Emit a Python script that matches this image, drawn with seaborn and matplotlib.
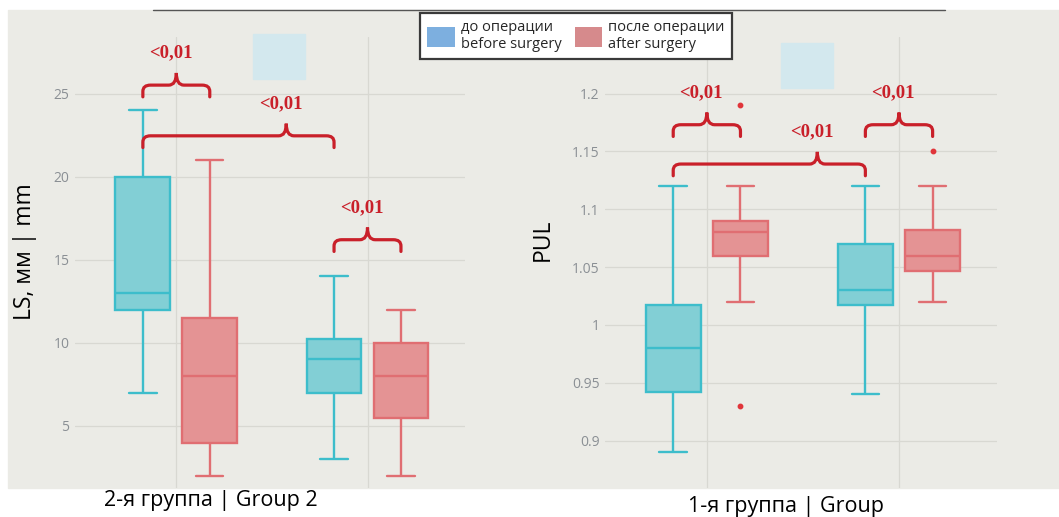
#!/usr/bin/env python3
# LS / PUL before vs after surgery, two groups side by side

import numpy as np
import pandas as pd
import matplotlib
matplotlib.use("Agg")
import matplotlib.pyplot as plt
import seaborn as sns
from matplotlib.path import Path
from matplotlib.patches import PathPatch, Patch, Rectangle
from matplotlib.lines import Line2D
from matplotlib.transforms import blended_transform_factory

# ---------------- data ----------------
categories = ["a", "b"]
hue_levels = ["до операции\nbefore surgery", "после операции\nafter surgery"]

# left panel: LS, mm  (five-number summaries per box)
ls_before_min = [7, 3]
ls_before_q1 = [12, 7]
ls_before_med = [13, 9]
ls_before_q3 = [20, 10.25]
ls_before_max = [24, 14]
ls_before_out = [[], []]

ls_after_min = [2, 2]
ls_after_q1 = [4, 5.5]
ls_after_med = [8, 8]
ls_after_q3 = [11.5, 10]
ls_after_max = [21, 12]
ls_after_out = [[], []]

# right panel: PUL
pul_before_min = [0.89, 0.94]
pul_before_q1 = [0.942, 1.017]
pul_before_med = [0.98, 1.03]
pul_before_q3 = [1.017, 1.07]
pul_before_max = [1.12, 1.12]
pul_before_out = [[], []]

pul_after_min = [1.02, 1.02]
pul_after_q1 = [1.06, 1.047]
pul_after_med = [1.08, 1.06]
pul_after_q3 = [1.09, 1.082]
pul_after_max = [1.12, 1.12]
pul_after_out = [[0.93, 1.19], [1.15]]

ls_ticks = [5, 10, 15, 20, 25]
ls_ticklabels = ["5", "10", "15", "20", "25"]
pul_ticks = [0.9, 0.95, 1.0, 1.05, 1.1, 1.15, 1.2]
pul_ticklabels = ["0.9", "0.95", "1", "1.05", "1.1", "1.15", "1.2"]

# significance brackets: (cat_a, hue_a, cat_b, hue_b, bracket end value, tip position 0..1)
ls_brackets = [
    (0, 0, 0, 1, 24.8, 0.5),
    (0, 0, 1, 0, 21.75, 0.75),
    (1, 0, 1, 1, 15.5, 0.5),
]
pul_brackets = [
    (0, 0, 0, 1, 1.163, 0.5),
    (0, 0, 1, 0, 1.129, 0.75),
    (1, 0, 1, 1, 1.163, 0.5),
]
p_label = "<0,01"

# ---------------- styling ----------------
BG = "#ebebe6"
FILL = {hue_levels[0]: "#82cfd5", hue_levels[1]: "#e49394"}
EDGE = {hue_levels[0]: "#3dbdcb", hue_levels[1]: "#e06e72"}
LEGEND_COL = ["#7dafdf", "#d68a8c"]
RED = "#c9202a"
WIDTH, GAP = 0.7, 0.18


def box_sample(lo, q1, med, q3, hi, out):
    """Observations whose quartiles/whiskers equal the read summary."""
    return [lo, hi] + [q1] * 20 + [med] * 20 + [q3] * 20 + list(out)


def build_frame(before, after):
    rows = []
    for hue, summ in zip(hue_levels, (before, after)):
        for i, cat in enumerate(categories):
            vals = box_sample(*(s[i] for s in summ))
            rows += [{"cat": cat, "hue": hue, "value": v} for v in vals]
    return pd.DataFrame(rows)


ls_df = build_frame(
    (ls_before_min, ls_before_q1, ls_before_med, ls_before_q3, ls_before_max, ls_before_out),
    (ls_after_min, ls_after_q1, ls_after_med, ls_after_q3, ls_after_max, ls_after_out),
)
pul_df = build_frame(
    (pul_before_min, pul_before_q1, pul_before_med, pul_before_q3, pul_before_max, pul_before_out),
    (pul_after_min, pul_after_q1, pul_after_med, pul_after_q3, pul_after_max, pul_after_out),
)


def draw_bracket(ax, x0, x1, frac, y_end):
    ylo, yhi = ax.get_ylim()
    tr = blended_transform_factory(ax.transData, ax.transAxes)
    ye = (y_end - ylo) / (yhi - ylo)
    yf = ye + 0.026
    yt = ye + 0.053
    xt = x0 + frac * (x1 - x0)
    rx, ry = 0.04, 0.014
    verts = [
        (x0, ye), (x0, yf - ry),
        (x0, yf), (x0 + rx, yf),
        (xt - rx, yf),
        (xt, yf), (xt, yt),
        (xt, yf), (xt + rx, yf),
        (x1 - rx, yf),
        (x1, yf), (x1, yf - ry),
        (x1, ye),
    ]
    codes = [Path.MOVETO, Path.LINETO,
             Path.CURVE3, Path.CURVE3,
             Path.LINETO,
             Path.CURVE3, Path.CURVE3,
             Path.CURVE3, Path.CURVE3,
             Path.LINETO,
             Path.CURVE3, Path.CURVE3,
             Path.LINETO]
    ax.add_patch(PathPatch(Path(verts, codes), transform=tr, fill=False,
                           edgecolor=RED, lw=2.3, capstyle="round", zorder=5,
                           clip_on=False))
    ax.text(xt - 0.03, yt + 0.045, p_label, transform=tr, ha="center", va="center",
            color=RED, fontsize=13.5, fontweight="bold", family="Liberation Serif",
            zorder=6)


def panel(ax, df, ylim, ticks, ticklabels, brackets, ylabel, xlabel,
          ylabel_xy, xlabel_xy):
    for hue in hue_levels:
        sns.boxplot(data=df[df["hue"] == hue], x="cat", y="value", hue="hue",
                    order=categories, hue_order=hue_levels, palette=FILL,
                    dodge=True, width=WIDTH, gap=GAP, saturation=1,
                    linecolor=EDGE[hue], linewidth=1.7,
                    flierprops=dict(marker="o", markersize=3.2,
                                    markerfacecolor="#e0353a",
                                    markeredgecolor="#e0353a"),
                    legend=False, ax=ax)
    ax.set_ylim(*ylim)
    ax.set_xlim(-0.53, 1.51)
    ax.set_yticks(ticks, ticklabels)
    ax.set_xticks([0, 1], ["", ""])
    ax.tick_params(axis="both", length=0)
    ax.tick_params(axis="y", labelsize=10, labelcolor="#8a8f94", pad=4)
    for s in ax.spines.values():
        s.set_visible(False)
    ax.grid(True, color="#d8d8d2", lw=0.9)
    ax.set_axisbelow(True)

    ax.set_ylabel(ylabel, fontsize=16.5, color="black", va="center", ha="center")
    ax.yaxis.set_label_coords(*ylabel_xy)
    ax.set_xlabel(xlabel, fontsize=15.5, color="black", va="center", ha="center")
    ax.xaxis.set_label_coords(*xlabel_xy)

    off = WIDTH / 4
    for ca, ha, cb, hb, yend, frac in brackets:
        xa = ca + (-off if ha == 0 else off)
        xb = cb + (-off if hb == 0 else off)
        draw_bracket(ax, xa, xb, frac, yend)


sns.set_theme(style="whitegrid")
plt.rcParams["font.family"] = ["Open Sans", "DejaVu Sans"]
plt.rcParams["axes.facecolor"] = BG

W, H = 1059, 517
fig = plt.figure(figsize=(W / 100, H / 100), dpi=100, facecolor="white")

# grey backdrop behind both panels
fig.add_artist(Rectangle((8 / W, 1 - 488 / H), (W - 8) / W, (488 - 10) / H,
                         transform=fig.transFigure, color=BG, zorder=-10))
fig.add_artist(Line2D([153 / W, 945 / W], [1 - 10 / H, 1 - 10 / H],
                      transform=fig.transFigure, color="#555555", lw=1))

ax1 = fig.add_axes([75 / W, 1 - 488 / H, 390 / W, 451 / H])
ax2 = fig.add_axes([605 / W, 1 - 488 / H, 392 / W, 451 / H])

panel(ax1, ls_df, (1.27, 28.4), ls_ticks, ls_ticklabels, ls_brackets,
      "LS, мм | mm", "2-я группа | Group 2", (-0.128, 0.525), (0.349, -0.027))
panel(ax2, pul_df, (0.859, 1.249), pul_ticks, pul_ticklabels, pul_brackets,
      "PUL", "1-я группа | Group", (-0.158, 0.55), (0.462, -0.04))

# pale blue blocks near the top
for x, y in [(253, 34), (781, 43)]:
    fig.add_artist(Rectangle((x / W, 1 - (y + 45) / H), 52 / W, 45 / H,
                             transform=fig.transFigure, color="#d3e8ee", zorder=3))

handles = [Patch(facecolor=c, edgecolor="none") for c in LEGEND_COL]
leg = fig.legend(handles, hue_levels, ncol=2, loc="upper left",
                 bbox_to_anchor=(420 / W, 1 - 12.7 / H), borderaxespad=0,
                 frameon=True, fancybox=False, edgecolor="#3a3a3a",
                 facecolor="white", framealpha=1, fontsize=10.5,
                 handlelength=1.9, handleheight=1.75, handletextpad=0.4,
                 columnspacing=0.9, borderpad=0.5)
leg.get_frame().set_linewidth(1.6)

fig.savefig("out.png", dpi=100, facecolor="white")
